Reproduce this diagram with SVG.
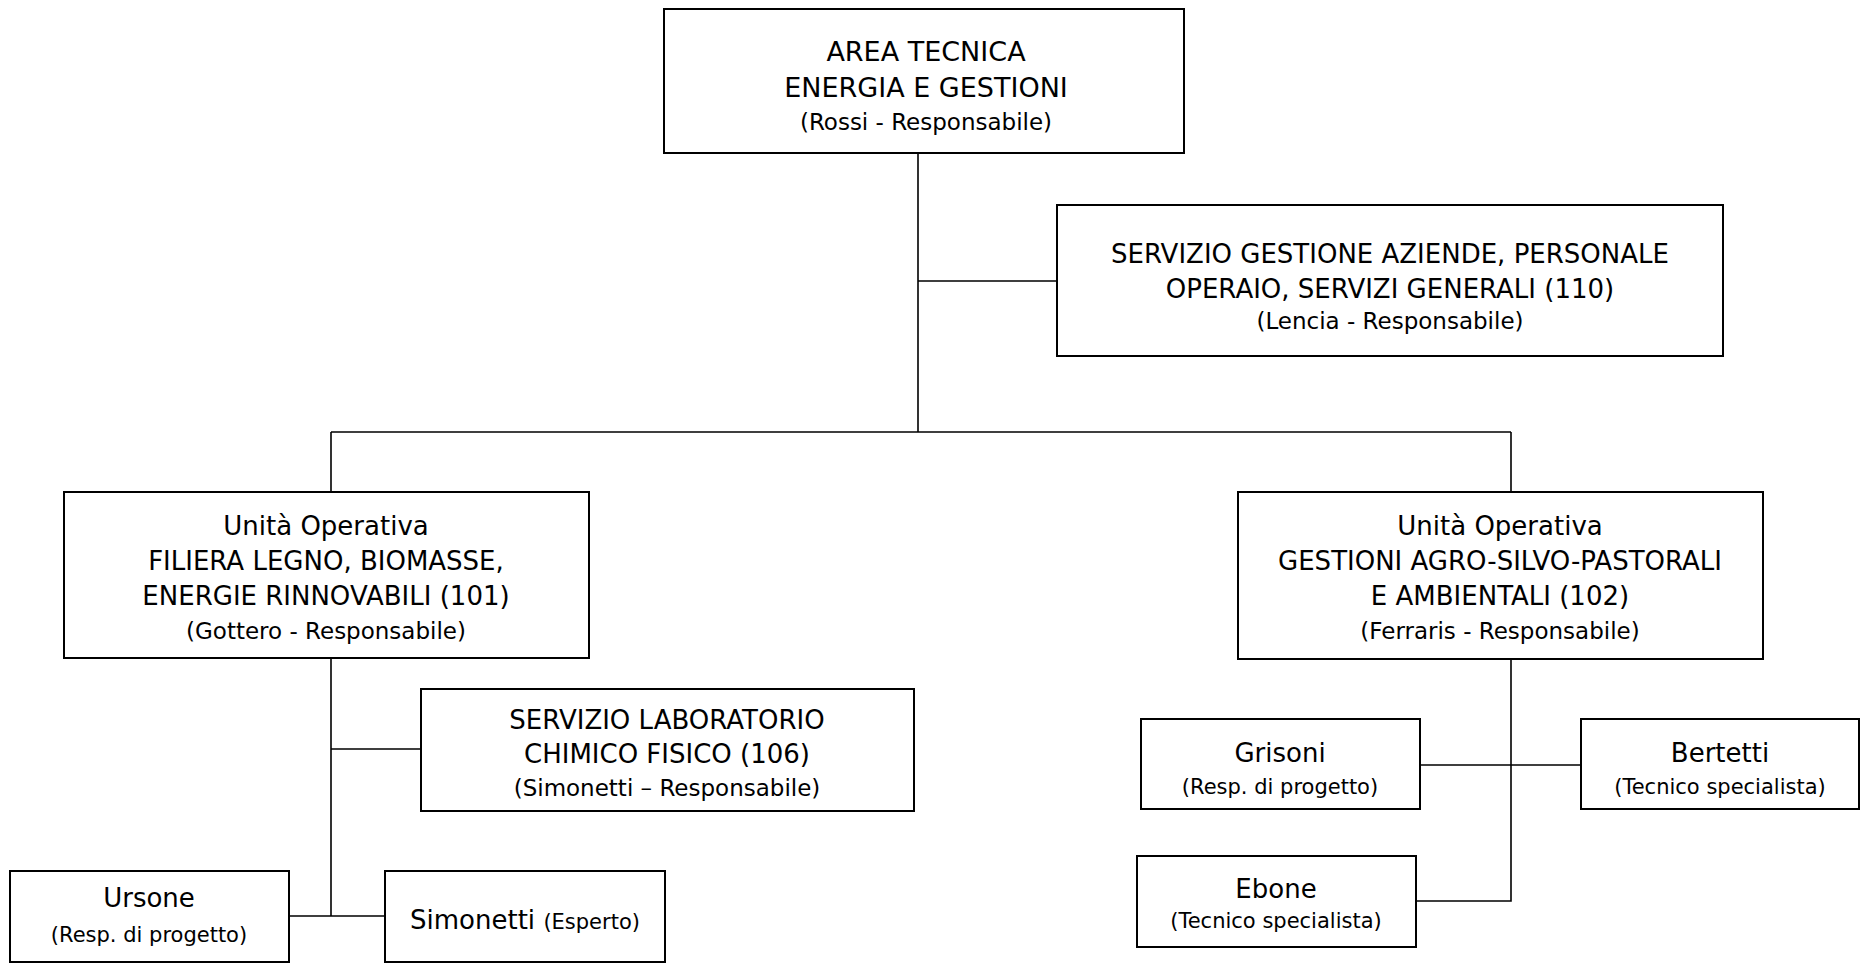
<svg xmlns="http://www.w3.org/2000/svg" width="1861" height="963" viewBox="0 0 1861 963">
<style>
.box{fill:#fff;stroke:#000;stroke-width:2}
.ln{stroke:#000;stroke-width:1.6;fill:none}
text{font-family:"DejaVu Sans",Verdana,sans-serif;fill:#000;text-anchor:middle}
.xl{font-size:27px}
.l{font-size:26px}
.m{font-size:23px}
.s{font-size:21px}
</style>
<rect width="1861" height="963" fill="#fff"/>
<g id="connectors">
<path class="ln" d="M918 153V432M918 281H1057M331 432H1511M331 432V492M1511 432V492M331 658V916M331 749H421M289 916H385M1511 659V901H1416M1420 765H1581"/>
</g>
<g id="area-tecnica">
<rect class="box" x="664" y="9" width="520" height="144"/>
<text class="xl" x="926" y="61">AREA TECNICA</text>
<text class="xl" x="926" y="97">ENERGIA E GESTIONI</text>
<text class="m" x="926" y="130">(Rossi - Responsabile)</text>
</g>
<g id="servizio-gestione">
<rect class="box" x="1057" y="205" width="666" height="151"/>
<text class="l" x="1390" y="263">SERVIZIO GESTIONE AZIENDE, PERSONALE</text>
<text class="l" x="1390" y="298">OPERAIO, SERVIZI GENERALI (110)</text>
<text class="m" x="1390" y="329">(Lencia - Responsabile)</text>
</g>
<g id="uo-101">
<rect class="box" x="64" y="492" width="525" height="166"/>
<text class="l" x="326" y="535">Unità Operativa</text>
<text class="l" x="326" y="570">FILIERA LEGNO, BIOMASSE,</text>
<text class="l" x="326" y="605">ENERGIE RINNOVABILI (101)</text>
<text class="m" x="326" y="639">(Gottero - Responsabile)</text>
</g>
<g id="uo-102">
<rect class="box" x="1238" y="492" width="525" height="167"/>
<text class="l" x="1500" y="535">Unità Operativa</text>
<text class="l" x="1500" y="570">GESTIONI AGRO-SILVO-PASTORALI</text>
<text class="l" x="1500" y="605">E AMBIENTALI (102)</text>
<text class="m" x="1500" y="639">(Ferraris - Responsabile)</text>
</g>
<g id="lab-106">
<rect class="box" x="421" y="689" width="493" height="122"/>
<text class="l" x="667" y="729">SERVIZIO LABORATORIO</text>
<text class="l" x="667" y="763">CHIMICO FISICO (106)</text>
<text class="m" x="667" y="796">(Simonetti – Responsabile)</text>
</g>
<g id="ursone">
<rect class="box" x="10" y="871" width="279" height="91"/>
<text class="l" x="149" y="907">Ursone</text>
<text class="s" x="149" y="942">(Resp. di progetto)</text>
</g>
<g id="simonetti">
<rect class="box" x="385" y="871" width="280" height="91"/>
<text x="525" y="929"><tspan class="l">Simonetti </tspan><tspan class="s">(Esperto)</tspan></text>
</g>
<g id="grisoni">
<rect class="box" x="1141" y="719" width="279" height="90"/>
<text class="l" x="1280" y="762">Grisoni</text>
<text class="s" x="1280" y="794">(Resp. di progetto)</text>
</g>
<g id="bertetti">
<rect class="box" x="1581" y="719" width="278" height="90"/>
<text class="l" x="1720" y="762">Bertetti</text>
<text class="s" x="1720" y="794">(Tecnico specialista)</text>
</g>
<g id="ebone">
<rect class="box" x="1137" y="856" width="279" height="91"/>
<text class="l" x="1276" y="898">Ebone</text>
<text class="s" x="1276" y="928">(Tecnico specialista)</text>
</g>
</svg>
